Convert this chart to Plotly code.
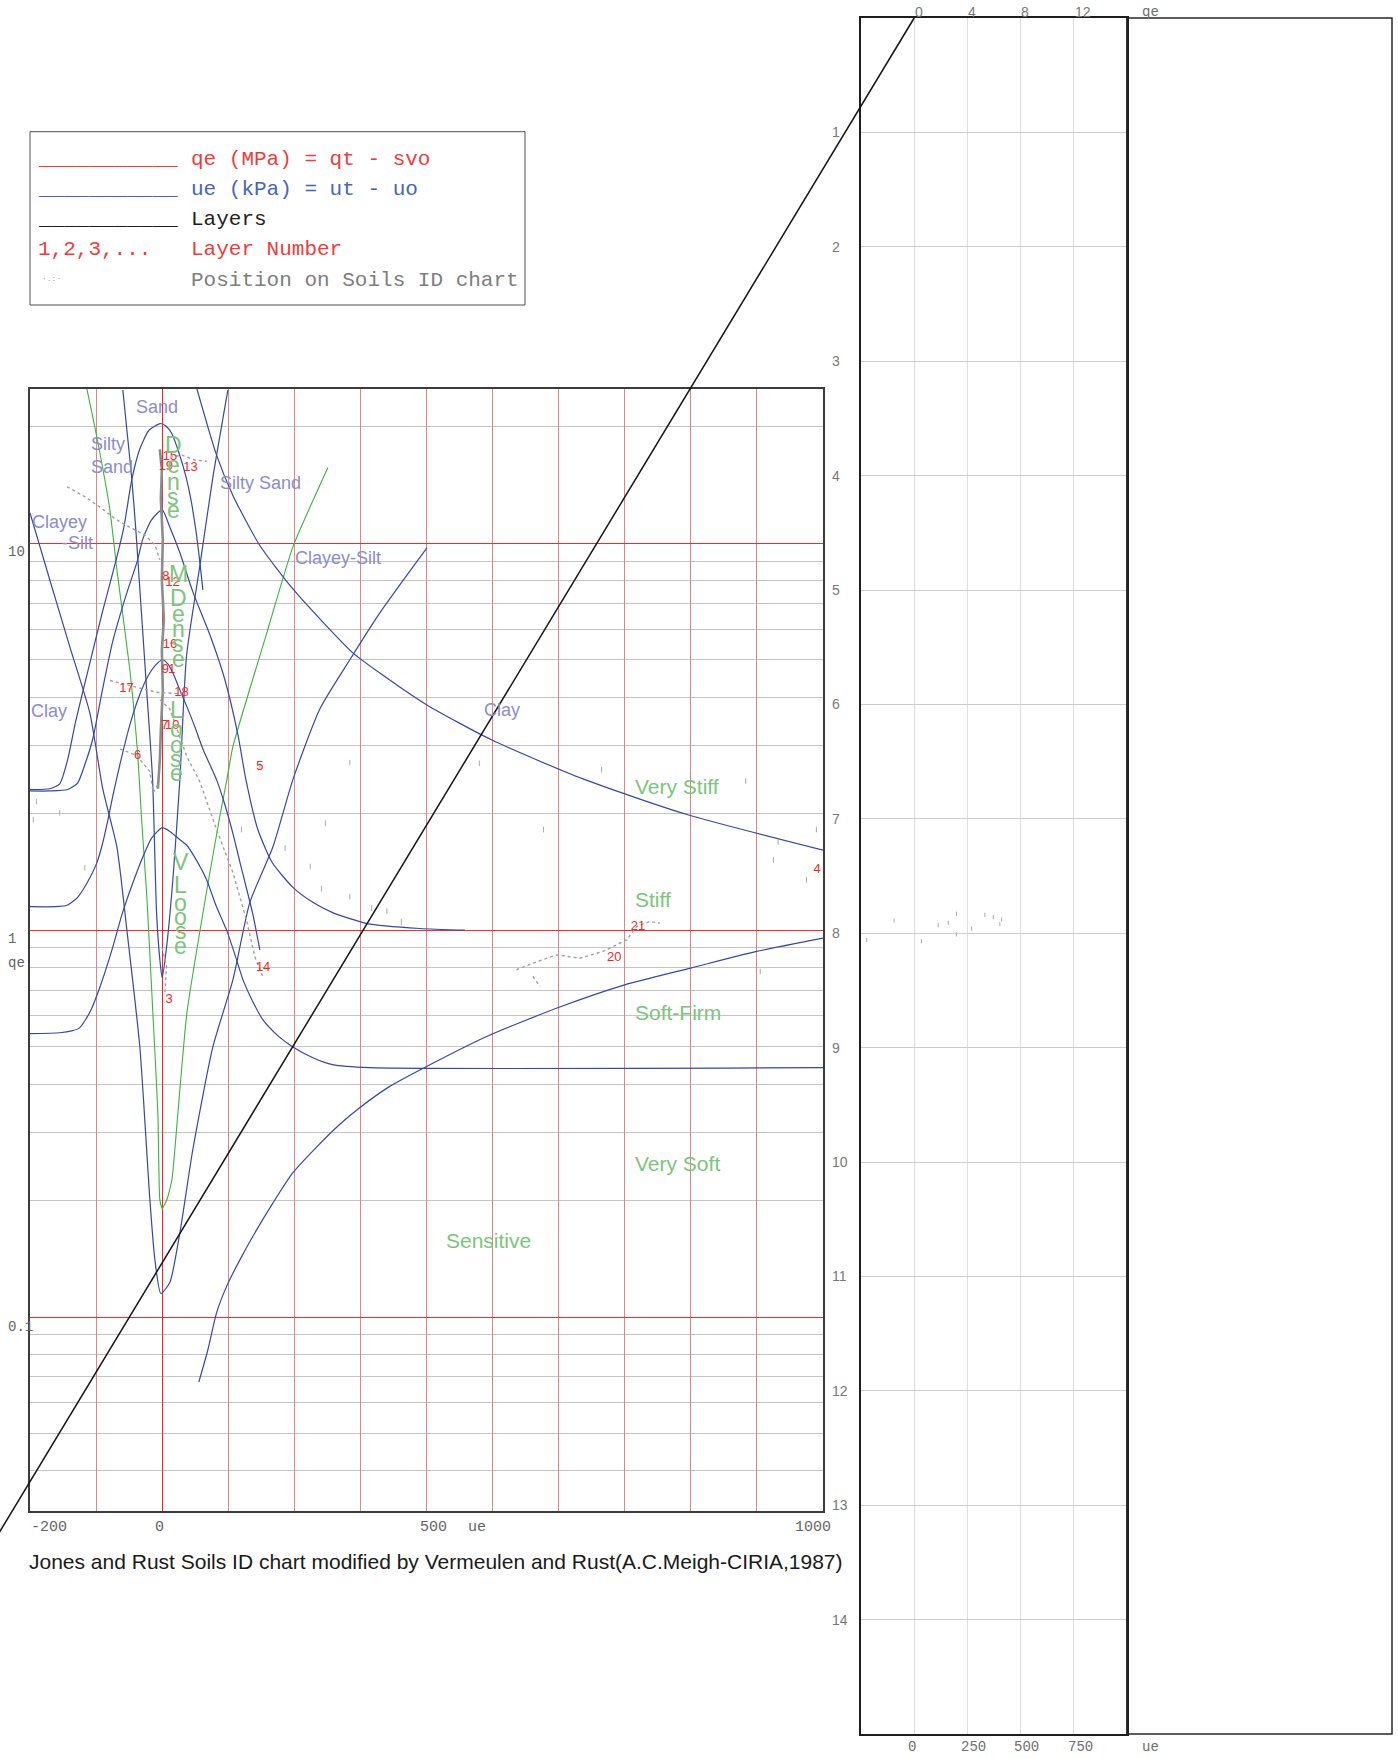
import numpy as np
import plotly.graph_objects as go

W, H = 1398, 1758

# ---------------- data (u = excess pore pressure kPa, q = qe MPa) ----------------
# narrow funnel (left arm, tip, right arm)
f1_u = [-59.5, -53.4, -46.3, -39.8, -33.8, -23.6, -14.5, -8.5, -3.5, 0, 6.7, 16.2, 26.8, 36.9, 57.0, 76.7, 99.4]
f1_q = [24.9, 19.6, 14.9, 10.8, 7.62, 4.21, 2.45, 1.11, 0.838, 0.753, 0.905, 1.35, 2.45, 5.12, 8.74, 14.8, 24.9]

# wide funnel, clayey-silt / clay
f2_u = [-200, -170, -139.7, -109.4, -89.7, -68.5, -53.4, -33.8, -18.6, -11.1, -2, 11.7, 26.8, 46.4,
        76.7, 107, 132.7, 167.5, 197.8, 238.6, 284, 329.4, 400.6]
f2_q = [11.98, 8.04, 5.40, 3.64, 2.31, 1.64, 1.00, 0.499, 0.201, 0.141, 0.115, 0.123, 0.165, 0.271,
        0.499, 0.744, 1.18, 1.64, 2.45, 3.73, 5.00, 6.61, 9.73]

bell1_u = [-200, -170, -155, -143, -131, -109, -90, -72, -58, -46, -34, -20, -3, 5.6, 14.7, 25.1,
           35.9, 43.4, 51.0, 57.0, 61.6]
bell1_q = [2.31, 2.32, 2.39, 2.76, 3.46, 4.94, 6.69, 8.74, 11.0, 14.6, 17.5, 19.6, 20.4, 20.1, 19.2,
           17.2, 14.9, 13.0, 10.8, 8.95, 7.58]

bell2_u = [-200, -170, -143, -128, -117, -105, -90, -75, -53, -38, -29, -16, 0, 11.7, 26.8, 46.4,
           72.2, 94.9, 114.6, 126.7, 144.8, 166, 197.8, 228, 258, 310, 390, 458]
bell2_q = [2.29, 2.29, 2.31, 2.40, 2.68, 3.12, 4.21, 5.56, 7.49, 8.95, 10.3, 11.5, 12.2, 11.0, 9.45,
           7.49, 5.80, 4.44, 3.20, 2.45, 1.82, 1.50, 1.29, 1.18, 1.11, 1.04, 1.01, 1.0]

bell3_u = [-200, -162, -144, -129, -120, -109, -99, -90, -82, -75, -64, -49, -34, -22, -11, 0, 8.6,
           16.2, 26.8, 36.9, 49.6, 61.6, 72.2, 82.3, 94.9, 107, 117.6, 128.2, 137.2, 147.8]
bell3_q = [1.15, 1.15, 1.16, 1.21, 1.27, 1.37, 1.49, 1.68, 1.93, 2.21, 2.68, 3.39, 4.06, 4.52, 4.82,
           5.00, 4.88, 4.62, 4.18, 3.80, 3.35, 2.94, 2.68, 2.45, 2.11, 1.78, 1.50, 1.27, 1.10, 0.889]

bell4_u = [-200, -155, -137, -125, -109, -94, -76, -60, -44, -29, -16, 0, 11.7, 23.8, 36.9, 49.6,
           67.2, 81.3, 97.5, 110.2, 122.3, 135.9, 152.6, 175.3, 197.8, 228, 258, 314, 1000]
bell4_q = [0.540, 0.543, 0.549, 0.559, 0.615, 0.714, 0.889, 1.11, 1.33, 1.55, 1.73, 1.84, 1.80, 1.73,
           1.66, 1.54, 1.35, 1.16, 1.00, 0.863, 0.744, 0.660, 0.586, 0.533, 0.499, 0.468, 0.449, 0.441, 0.441]

clay_u = [52.5, 82.3, 107, 147.8, 197.8, 238.6, 288.5, 329.4, 400.6, 499, 636.7, 794.1, 1000]
clay_q = [25.1, 16.9, 13.3, 9.87, 7.62, 6.38, 5.21, 4.62, 3.82, 3.10, 2.46, 1.99, 1.61]

soft_u = [55.5, 69.2, 82.3, 97.5, 117.6, 142.9, 167.5, 197.8, 233.7, 268.1, 298.4, 343.8, 390, 491,
          598.6, 700, 801.1, 899.5, 1000]
soft_q = [0.0679, 0.0823, 0.1025, 0.120, 0.1405, 0.168, 0.197, 0.236, 0.275, 0.314, 0.347, 0.394,
          0.435, 0.531, 0.630, 0.722, 0.799, 0.881, 0.954]

# density boundary (green V)
dens_u = [-114, -98.8, -79.1, -68.5, -48.9, -36.8, -31.2, -23.2, -14.1, -6.5, -3.5, 0, 7.1, 14.7,
          19.2, 26.8, 37.4, 67.6, 87.3, 97.9, 107, 158.4, 197.8, 250.8]
dens_q = [25.1, 18.8, 12.2, 8.54, 4.71, 2.81, 1.94, 1.22, 0.611, 0.337, 0.201, 0.191, 0.201, 0.226,
          0.271, 0.387, 0.611, 1.27, 1.97, 2.45, 2.98, 5.87, 9.79, 15.7]

# positions on soils ID chart (gray trails)
trail_main_u = [-3.5, -0.5, -2, 1, -0.5, 2.6, -0.5, 1, -2, -3.5, -6.5]
trail_main_q = [17.5, 15.5, 13.0, 10.2, 8.04, 6.34, 5.30, 4.18, 3.29, 2.76, 2.32]
trails = [
    ([-144, -117, -94, -72, -49, -26, -11, -3.5], [14.0, 13.2, 12.4, 11.6, 11.0, 10.5, 9.91, 9.06]),
    ([11.7, 30, 50, 67.6], [16.7, 16.9, 16.4, 16.3]),
    ([-79, -50, -8.5, 31.8], [4.42, 4.30, 4.12, 4.08]),
    ([-3.5, 11.7, 36.9, 57, 82.3, 107, 127.7, 140.3, 152.4], [3.94, 3.73, 2.82, 2.42, 1.82, 1.41, 1.06, 0.853, 0.757]),
    ([-63.9, -38.7, -18.6, -13.6, -3.5], [2.94, 2.83, 2.57, 2.27, 2.42]),
    ([0, 6.7, 4.1], [0.90, 0.805, 0.688]),
    ([536, 567, 597, 632, 667, 703, 718, 738, 753], [0.790, 0.829, 0.863, 0.846, 0.881, 0.944, 1.022, 1.053, 1.043]),
    ([561, 572], [0.759, 0.715]),
]
dash_u = [284, 480, 665, 883, 577, 990, 925, 975, 905, 932, 247, 224, 241, 284, 317, 340, 362, 186,
          120, -190, -155, -117, -195, 148]
dash_q = [2.71, 2.70, 2.60, 2.43, 1.82, 1.82, 1.52, 1.35, 0.782, 1.69, 1.89, 1.46, 1.28, 1.22, 1.14,
          1.12, 1.05, 1.63, 1.82, 2.15, 2.01, 1.45, 1.93, 2.66]

layer_no = ['15', '19', '13', '8', '12', '16', '9', '1', '17', '18', '7', '10', '6', '5', '3', '14', '4', '21', '20']
layer_u = [11.7, 5.6, 43.0, 5.6, 15.7, 11.7, 4.8, 14.7, -53.9, 29.4, 4.1, 15.4, -37.2, 147.8, 10.6, 152.8, 991, 720, 684]
layer_q = [16.7, 15.8, 15.7, 8.20, 7.89, 5.46, 4.71, 4.71, 4.22, 4.12, 3.38, 3.37, 2.82, 2.64, 0.660, 0.798, 1.43, 1.02, 0.851]

# profile panel
prof_qe = [-1.51, -3.58, 0.56, 1.81, 2.56, 3.19, 3.19, 4.32, 5.32, 5.95, 6.58, 6.45]
prof_depth = [7.89, 8.06, 8.07, 7.93, 7.91, 7.83, 8.01, 7.96, 7.84, 7.86, 7.88, 7.92]
layer_line_qe = [0, -72.8]
layer_line_depth = [0, 14]

qe_ticks = [0, 4, 8, 12]
ue_ticks = ['0', '250', '500', '750']
depth_ticks = list(range(1, 15))


# ---------------- helpers ----------------
def px(x):
    return x / W


def py(y):
    return 1 - y / H


blue = 'rgb(52,72,165)'
green = 'rgb(60,178,60)'
lav = 'rgb(140,140,205)'
lgreen = 'rgb(124,196,124)'
mono = 'Liberation Mono'
sans = 'Liberation Sans'

fig = go.Figure()

# density line
fig.add_trace(go.Scatter(x=dens_u, y=dens_q, mode='lines', line=dict(color=green, width=1.1, shape='spline', smoothing=0.5),
                         hoverinfo='skip'))

# boundaries
for u, q in [(f1_u, f1_q), (f2_u, f2_q), (bell1_u, bell1_q), (bell2_u, bell2_q), (bell3_u, bell3_q),
             (bell4_u, bell4_q), (clay_u, clay_q), (soft_u, soft_q)]:
    fig.add_trace(go.Scatter(x=u, y=q, mode='lines', line=dict(color=blue, width=1.2, shape='spline', smoothing=0.6),
                             hoverinfo='skip'))

# gray trails
fig.add_trace(go.Scatter(x=trail_main_u, y=trail_main_q, mode='lines', line=dict(color='rgb(140,140,140)', width=2.6),
                         hoverinfo='skip'))
for u, q in trails:
    fig.add_trace(go.Scatter(x=u, y=q, mode='lines', line=dict(color='rgb(160,160,160)', width=1.4, dash='dot'),
                             hoverinfo='skip'))
fig.add_trace(go.Scatter(x=dash_u, y=dash_q, mode='markers',
                         marker=dict(symbol='line-ns', size=4, line=dict(width=1, color='rgb(170,170,170)')),
                         hoverinfo='skip'))

# layer numbers
fig.add_trace(go.Scatter(x=layer_u, y=layer_q, mode='text', text=layer_no, cliponaxis=False,
                         textfont=dict(family=sans, size=13, color='rgb(245,40,40)'), hoverinfo='skip'))

# profile panel points
fig.add_trace(go.Scatter(x=prof_qe, y=prof_depth, mode='markers', xaxis='x2', yaxis='y2',
                         marker=dict(symbol='line-ns', size=3, line=dict(width=1, color='rgb(170,170,170)')),
                         hoverinfo='skip'))

# layers line, drawn on an overlay axis that shares the profile panel scale
x2_dom = [px(861), px(1126.8)]
x2_rng = [-4, 16]
y2_dom = [py(1734), py(18)]
y2_rng = [15, 0]
sx = (x2_rng[1] - x2_rng[0]) / (x2_dom[1] - x2_dom[0])
x3_rng = [x2_rng[0] - x2_dom[0] * sx, x2_rng[1] + (1 - x2_dom[1]) * sx]
sy = (y2_rng[1] - y2_rng[0]) / (y2_dom[1] - y2_dom[0])
y3_rng = [y2_rng[0] - y2_dom[0] * sy, y2_rng[1] + (1 - y2_dom[1]) * sy]

fig.add_trace(go.Scatter(x=layer_line_qe, y=layer_line_depth, mode='lines', xaxis='x3', yaxis='y3',
                         line=dict(color='rgb(20,20,20)', width=1.5), hoverinfo='skip'))

# ---------------- annotations ----------------
ann = []


def text(s, x, y, color, size, family=sans, anchor='left', **kw):
    ann.append(dict(text=s, x=px(x), y=py(y), xref='paper', yref='paper', xanchor=anchor, yanchor='middle',
                    showarrow=False, font=dict(family=family, size=size, color=color), **kw))


# region labels
text('Sand', 157.3, 406.7, lav, 18, anchor='center')
text('Silty<br>Sand', 89, 456, lav, 18, align='left')
text('Silty Sand', 218, 482.7, lav, 18)
text('Clayey', 29.5, 521.7, lav, 18)
text('-Silt', 60, 543.3, lav, 18)
text('Clayey-Silt', 293, 558.3, lav, 18)
text('Clay', 29, 710.7, lav, 18)
text('Clay', 481.5, 710, lav, 18)
for s, y in [('Very Stiff', 787), ('Stiff', 900), ('Soft-Firm', 1012.7), ('Very Soft', 1163.3)]:
    text(s, 633, y, lgreen, 21)
text('Sensitive', 444, 1240, lgreen, 21)

# vertical density words
stacks = [('Dense', 173, [445, 465, 482, 497, 510]),
          ('MDense', 178, [574, 598, 614, 629, 644, 659]),
          ('Loose', 176, [710, 729, 745, 759, 773]),
          ('VLoose', 180.5, [862, 885, 903, 917, 931, 946])]
for word, x, ys in stacks:
    for ch, y in zip(word, ys):
        text(ch, x, y, lgreen, 23, anchor='center')

# main axis labels
for s, y in [('10', 551.7), ('1', 939.3), ('qe', 962.7), ('0.1', 1326.7)]:
    text(s, 6, y, 'rgb(100,100,100)', 14, family=mono)
for s, x in [('-200', 49), ('0', 159), ('500', 433), ('ue', 477), ('1000', 813)]:
    text(s, x, 1527, 'rgb(100,100,100)', 15, family=mono, anchor='center')

# profile panel labels
for v in qe_ticks:
    ann.append(dict(text=str(v), x=v, y=py(12.5), xref='x2', yref='paper', xanchor='left', yanchor='middle',
                    xshift=-1, showarrow=False, font=dict(family=sans, size=14, color='rgb(120,120,120)')))
text('qe', 1150.7, 12.5, 'rgb(110,110,110)', 14, family=mono, anchor='center')
for i, s in enumerate(ue_ticks):
    ann.append(dict(text=s, x=qe_ticks[i], y=py(1747), xref='x2', yref='paper', xanchor='left', yanchor='middle',
                    xshift=-8, showarrow=False, font=dict(family=mono, size=14, color='rgb(110,110,110)')))
text('ue', 1150.7, 1747, 'rgb(110,110,110)', 14, family=mono, anchor='center')
for d in depth_ticks:
    ann.append(dict(text=str(d), x=px(830), y=d, xref='paper', yref='y2', xanchor='left', yanchor='middle',
                    showarrow=False, font=dict(family=sans, size=14, color='rgb(120,120,120)')))

# legend box
legend_rows = [('qe (MPa) = qt - svo', 'rgb(238,60,60)', 160),
               ('ue (kPa) = ut - uo', 'rgb(70,100,190)', 189.3),
               ('Layers', 'rgb(30,30,30)', 220),
               ('Layer Number', 'rgb(238,60,60)', 249.3),
               ('Position on Soils ID chart', 'rgb(125,125,125)', 280)]
for s, c, y in legend_rows:
    text(s, 189, y, c, 21, family=mono)
for c, y in [('rgb(238,60,60)', 160), ('rgb(70,100,190)', 189.3), ('rgb(30,30,30)', 220)]:
    text('_' * 11, 36, y, c, 21, family=mono)
text('1,2,3,...', 36, 249.3, 'rgb(238,60,60)', 21, family=mono)
text('·.:·', 40, 278, 'rgb(160,160,160)', 8, family=mono)

# title
text('Jones and Rust Soils ID chart modified by Vermeulen and Rust(A.C.Meigh-CIRIA,1987)', 436, 1561,
     'rgb(25,25,25)', 21, anchor='center')

shapes = [
    dict(type='rect', xref='paper', yref='paper', x0=px(30), x1=px(525), y0=py(131.7), y1=py(305),
         line=dict(color='rgb(80,80,80)', width=1)),
    dict(type='rect', xref='paper', yref='paper', x0=px(1126.8), x1=px(1392), y0=py(18), y1=py(1734),
         line=dict(color='rgb(40,40,40)', width=1.5)),
]

fig.update_layout(
    width=W, height=H, margin=dict(l=0, r=0, t=0, b=0),
    paper_bgcolor='white', plot_bgcolor='rgba(0,0,0,0)', showlegend=False,
    annotations=ann, shapes=shapes,
    xaxis=dict(domain=[px(30), px(823)], range=[-200, 1000], dtick=100, tick0=0, anchor='y',
               showgrid=True, gridcolor='rgb(218,135,135)', gridwidth=1,
               zeroline=True, zerolinecolor='rgb(250,30,30)', zerolinewidth=1,
               showticklabels=False, ticks='', showline=True, mirror=True,
               linecolor='rgb(60,60,60)', linewidth=2),
    yaxis=dict(domain=[py(1511), py(389)], type='log', range=[-1.5015, 1.3989], dtick=1, anchor='x',
               showgrid=True, gridcolor='rgb(250,40,40)', gridwidth=1,
               minor=dict(dtick='D1', showgrid=True, gridcolor='rgb(196,196,196)', gridwidth=1.3, ticks=''),
               showticklabels=False, ticks='', showline=True, mirror=True,
               linecolor='rgb(60,60,60)', linewidth=2),
    xaxis2=dict(domain=x2_dom, range=x2_rng, dtick=4, tick0=0, anchor='y2',
                showgrid=True, gridcolor='rgb(220,220,220)', gridwidth=1.3, zeroline=False,
                showticklabels=False, ticks='', showline=True, mirror=True,
                linecolor='rgb(30,30,30)', linewidth=1.5),
    yaxis2=dict(domain=y2_dom, range=y2_rng, dtick=1, tick0=0, anchor='x2',
                showgrid=True, gridcolor='rgb(204,204,204)', gridwidth=1.3, zeroline=False,
                showticklabels=False, ticks='', showline=True, mirror=True,
                linecolor='rgb(30,30,30)', linewidth=1.5),
    xaxis3=dict(domain=[0, 1], range=x3_rng, anchor='y3', visible=False),
    yaxis3=dict(domain=[0, 1], range=y3_rng, anchor='x3', visible=False),
)

fig.write_html("out.html", config={'displayModeBar': False},
               post_script="document.body.style.margin='0px';")
